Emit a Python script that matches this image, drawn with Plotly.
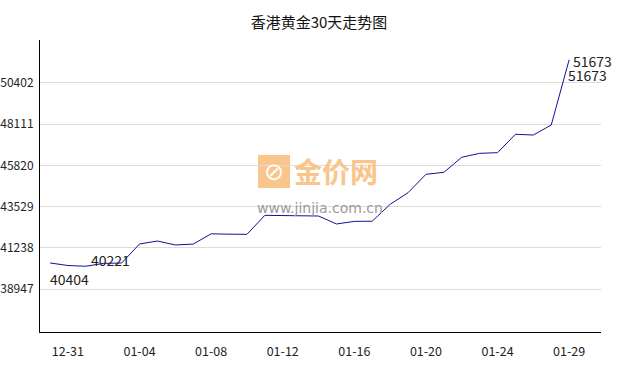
import plotly.graph_objects as go

dates = ["12-30", "12-31", "01-01", "01-02", "01-03", "01-04", "01-05", "01-06",
         "01-07", "01-08", "01-09", "01-10", "01-11", "01-12", "01-13", "01-14",
         "01-15", "01-16", "01-17", "01-18", "01-19", "01-20", "01-21", "01-22",
         "01-23", "01-24", "01-26", "01-27", "01-28", "01-29"]
prices = [40404, 40260, 40221, 40380, 40400, 41455, 41620, 41400,
          41450, 42020, 42000, 41990, 43045, 43030, 43020, 43008,
          42565, 42710, 42720, 43655, 44300, 45320, 45430, 46265,
          46485, 46520, 47540, 47500, 48056, 51673]
ytick_vals = [38947, 41238, 43529, 45820, 48111, 50402]
xtick_labels = ["12-31", "01-04", "01-08", "01-12", "01-16", "01-20", "01-24", "01-29"]

idx = list(range(len(dates)))
xtick_pos = [dates.index(d) for d in xtick_labels]

font = "Noto Sans CJK SC, DejaVu Sans, sans-serif"

W, H = 638, 370
L, R, T, B = 40, 37, 40, 38
PW, PH = W - L - R, H - T - B


def px(xp):  # page x -> paper
    return (xp - L) / PW


def py(yp):  # page y -> paper
    return (H - B - yp) / PH


fig = go.Figure()
fig.add_trace(go.Scatter(x=idx, y=prices, mode="lines",
                         line=dict(color="#10109a", width=1),
                         hoverinfo="skip", showlegend=False))

first_i = 0
min_i = prices.index(min(prices))
last_i = len(prices) - 1

ann = [
    dict(x=first_i, y=prices[first_i], text=str(prices[first_i]), xanchor="left",
         yanchor="middle", xshift=-2, yshift=-16),
    dict(x=min_i, y=prices[min_i], text=str(prices[min_i]), xanchor="left",
         yanchor="middle", xshift=3, yshift=6),
    dict(x=last_i, y=prices[last_i], text=str(max(prices)), xanchor="left",
         yanchor="middle", xshift=2, yshift=-1),
    dict(x=last_i, y=prices[last_i], text=str(prices[last_i]), xanchor="left",
         yanchor="middle", xshift=-3, yshift=-15),
]
for a in ann:
    a.update(xref="x", yref="y", showarrow=False,
             font=dict(family=font, size=14, color="#222"))

# watermark
fig.add_shape(type="rect", xref="paper", yref="paper",
              x0=px(258), x1=px(290), y0=py(188), y1=py(155),
              fillcolor="#f9c58a", line=dict(width=0), layer="below")
wm = [
    dict(x=px(274), y=py(171.5), text="⊘",
         font=dict(family="DejaVu Sans", size=24, color="white")),
    dict(x=px(336), y=py(171), text="<b>金价网</b>",
         font=dict(family=font, size=28, color="#f9c58a")),
    dict(x=px(320), y=py(208), text="www.jinjia.com.cn",
         font=dict(family="DejaVu Sans, sans-serif", size=14, color="#9a9a9a")),
]
for a in wm:
    a.update(xref="paper", yref="paper", showarrow=False,
             xanchor="center", yanchor="middle")

fig.update_layout(
    width=W, height=H,
    margin=dict(l=L, r=R, t=T, b=B, autoexpand=False),
    paper_bgcolor="white", plot_bgcolor="white",
    title=dict(text="香港黄金30天走势图", x=319 / W, xanchor="center",
               y=1 - 23 / H, yanchor="middle",
               font=dict(family=font, size=15, color="#111")),
    annotations=ann + wm,
    font=dict(family=font, size=12, color="#222"),
)
fig.update_xaxes(range=[-0.56, 30.78], tickvals=xtick_pos, ticktext=xtick_labels,
                 showgrid=False, zeroline=False, showline=True, linecolor="#000",
                 linewidth=1, ticks="", tickfont=dict(size=12.5), ticklabelstandoff=8,
                 automargin=False)
fig.update_yaxes(range=[36573, 52771], tickvals=ytick_vals, tickformat="d",
                 showgrid=True, gridcolor="#dcdcdc", gridwidth=1, zeroline=False,
                 showline=True, linecolor="#000", linewidth=1, ticks="",
                 tickfont=dict(size=12), ticklabelstandoff=3, automargin=False)

fig.write_html("out.html", config={"displayModeBar": False},
               post_script="document.body.style.margin='0';document.body.style.overflow='hidden';")
